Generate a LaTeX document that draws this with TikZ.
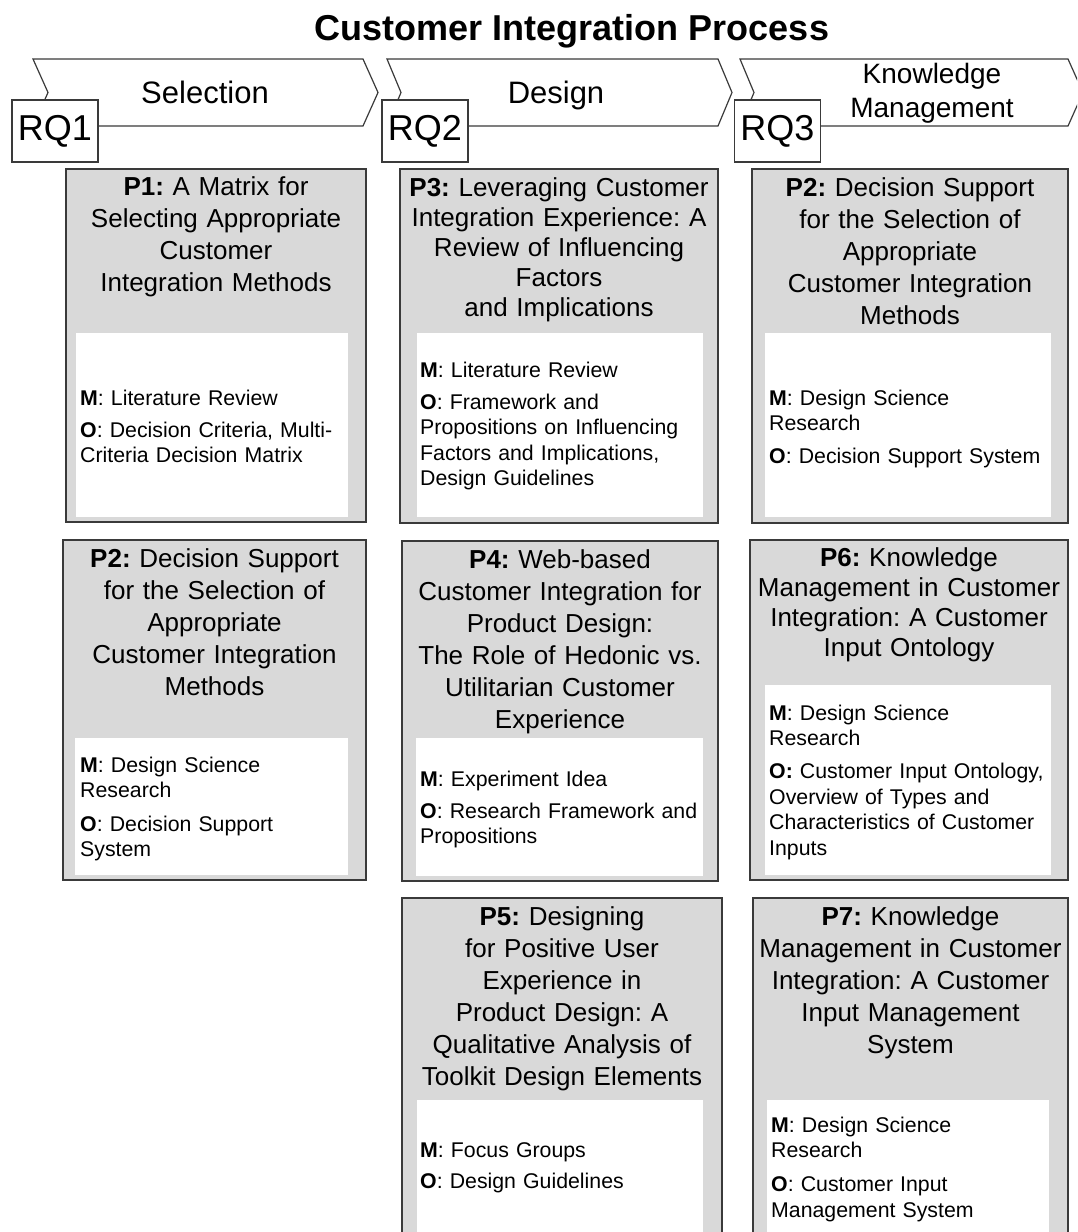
\documentclass[tikz,border=0pt]{standalone}
\usepackage{fontspec}
\setmainfont{Liberation Sans}
\frenchspacing
\definecolor{edgegrey}{HTML}{3A3A3A}
\definecolor{papergrey}{HTML}{D9D9D9}
\begin{document}
\frenchspacing
\begin{tikzpicture}[x=1pt,y=-1pt,
  chevron/.style={draw=edgegrey, line width=1.2pt, fill=white, line join=miter},
  rqbox/.style={draw=edgegrey, line width=1.2pt, fill=white, inner sep=0pt,
    minimum width=86pt, minimum height=62pt, font=\fontsize{36}{40}\selectfont},
  phase/.style={anchor=base, inner sep=0pt, font=\fontsize{31}{36}\selectfont},
  paper/.style={draw=edgegrey, line width=1.3pt, fill=papergrey},
  inset/.style={fill=white},
  ptitle/.style={anchor=base, inner sep=0pt, text width=330pt, align=center,
    font=\fontsize{26}{32}\selectfont\frenchspacing},
  ptitletight/.style={ptitle, font=\fontsize{26}{30}\selectfont\frenchspacing},
  pbody/.style={anchor=base west, inner sep=0pt, text width=300pt, align=left,
    font=\fontsize{21.3}{25.5}\selectfont\frenchspacing}
]
\useasboundingbox (0,0) rectangle (1077,1232);
\clip (0,0) rectangle (1077,1232);

% heading
\node[anchor=base, inner sep=0pt, font=\fontsize{36}{40}\selectfont\bfseries]
  (heading) at (572,40) {Customer Integration Process};

% process chevrons
\draw[chevron] (33,59) -- (363,59) -- (378,92.5) -- (363,126) -- (33,126) -- (48,92.5) -- cycle;
\draw[chevron] (387,59) -- (718,59) -- (732,92.5) -- (718,126) -- (387,126) -- (401,92.5) -- cycle;
\draw[chevron] (740,59) -- (1068,59) -- (1083,92.5) -- (1068,126) -- (740,126) -- (754,92.5) -- cycle;

\node[phase] (selection) at (205,103) {Selection};
\node[phase] (design) at (556,103) {Design};
\node[anchor=base, inner sep=0pt, text width=260pt, align=center,
  font=\fontsize{28}{34}\selectfont] (km) at (932,83) {Knowledge\\Management};

% research questions
\node[rqbox] (rq1) at (55,131) {RQ1};
\node[rqbox] (rq2) at (425,131) {RQ2};
\node[rqbox] (rq3) at (777.5,131) {RQ3};

% ---- column 1: selection
\path[paper] (66,169) rectangle (366,522);
\path[inset] (76,333) rectangle (348,517);
\node[ptitle] (p1t) at (216,195)
  {\textbf{P1:} A Matrix for\\Selecting Appropriate\\Customer\\Integration Methods};
\node[pbody] (p1b) at (80,405)
  {\textbf{M}: Literature Review\\[6.5pt]\textbf{O}: Decision Criteria, Multi-\\Criteria Decision Matrix};

\path[paper] (63,540) rectangle (366,880);
\path[inset] (75,738) rectangle (348,875);
\node[ptitle] (p2at) at (214.5,567)
  {\textbf{P2:} Decision Support\\for the Selection of\\Appropriate\\Customer Integration\\Methods};
\node[pbody] (p2ab) at (80,772)
  {\textbf{M}: Design Science\\Research\\[8pt]\textbf{O}: Decision Support\\System};

% ---- column 2: design
\path[paper] (400,169) rectangle (718,523);
\path[inset] (417,333) rectangle (703,517);
\node[ptitletight] (p3t) at (559,196)
  {\textbf{P3:} Leveraging Customer\\Integration Experience: A\\Review of Influencing\\Factors\\and Implications};
\node[pbody] (p3b) at (420,377)
  {\textbf{M}: Literature Review\\[6.5pt]\textbf{O}: Framework and\\Propositions on Influencing\\Factors and Implications,\\Design Guidelines};

\path[paper] (402,541) rectangle (718,881);
\path[inset] (416,738) rectangle (703,876);
\node[ptitle] (p4t) at (560,568)
  {\textbf{P4:} Web-based\\Customer Integration for\\Product Design:\\The Role of Hedonic vs.\\Utilitarian Customer\\Experience};
\node[pbody] (p4b) at (420,786)
  {\textbf{M}: Experiment Idea\\[6.5pt]\textbf{O}: Research Framework and\\Propositions};

\path[paper] (402,898) rectangle (722,1245);
\path[inset] (417,1100) rectangle (703,1245);
\node[ptitle] (p5t) at (562,925)
  {\textbf{P5:} Designing\\for Positive User\\Experience in\\Product Design: A\\Qualitative Analysis of\\Toolkit Design Elements};
\node[pbody] (p5b) at (420,1157)
  {\textbf{M}: Focus Groups\\[6pt]\textbf{O}: Design Guidelines};

% ---- column 3: knowledge management
\path[paper] (752,169) rectangle (1068,523);
\path[inset] (765,333) rectangle (1051,517);
\node[ptitle] (p2bt) at (910,196)
  {\textbf{P2:} Decision Support\\for the Selection of\\Appropriate\\Customer Integration\\Methods};
\node[pbody] (p2bb) at (769,405)
  {\textbf{M}: Design Science\\Research\\[7pt]\textbf{O}: Decision Support System};

\path[paper] (750,540) rectangle (1068,880);
\path[inset] (765,685) rectangle (1051,875);
\node[ptitletight] (p6t) at (909,566)
  {\textbf{P6:} Knowledge\\Management in Customer\\Integration: A Customer\\Input Ontology};
\node[pbody] (p6b) at (769,720)
  {\textbf{M}: Design Science\\Research\\[7.5pt]\textbf{O:} Customer Input Ontology,\\Overview of Types and\\Characteristics of Customer\\Inputs};

\path[paper] (753,898) rectangle (1068,1245);
\path[inset] (767,1100) rectangle (1049,1245);
\node[ptitle] (p7t) at (910.5,925)
  {\textbf{P7:} Knowledge\\Management in Customer\\Integration: A Customer\\Input Management\\System};
\node[pbody] (p7b) at (771,1132)
  {\textbf{M}: Design Science\\Research\\[8.5pt]\textbf{O}: Customer Input\\Management System};
\end{tikzpicture}
\end{document}
